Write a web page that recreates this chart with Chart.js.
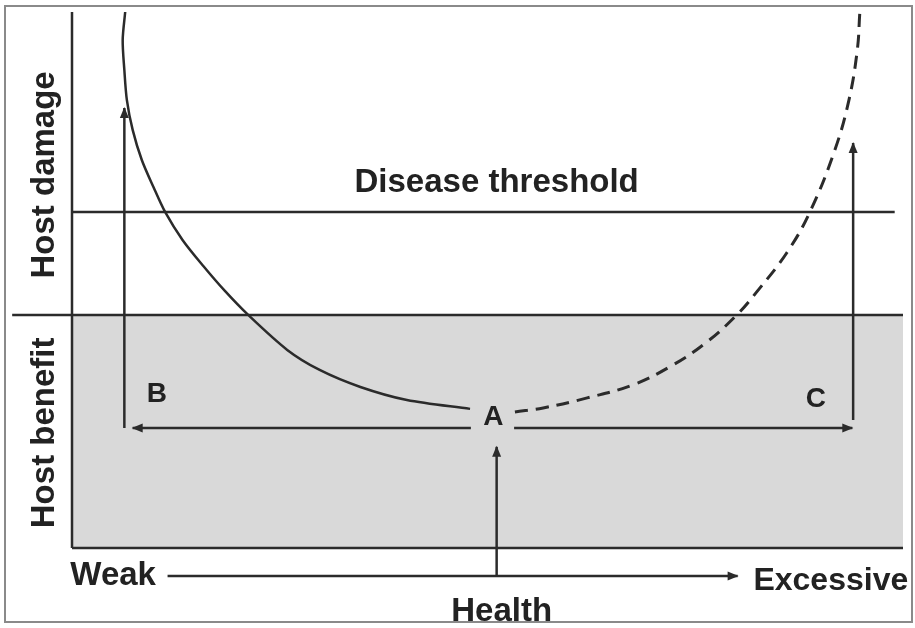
<!DOCTYPE html>
<html>
<head>
<meta charset="utf-8">
<title>Damage-response framework</title>
<script src="https://cdn.jsdelivr.net/npm/chart.js@4.4.1/dist/chart.umd.min.js"></script>
<style>
  body { margin: 0; background: #ffffff; }
  #wrap { width: 915px; height: 628px; }
</style>
</head>
<body>
<div id="wrap"><canvas id="drfChart" width="915" height="628"></canvas></div>
<script>
// x = health (0 weak .. 100 excessive), y = host damage (>0) / host benefit (<0)
var leftCurveX  = [6.4, 6.1, 6.3, 6.6, 7.3, 8.4, 9.8, 11.2, 13.3, 15.8, 18.4, 21.2, 25.9, 29.8, 34.7, 40.3, 47.9];
var leftCurveY  = [130, 118.0, 105.1, 92.3, 79.4, 66.5, 54.9, 44.2, 32.2, 21.0, 10.3, 0, -15.0, -23.6, -30.9, -36.5, -40.3];
var rightCurveX = [53.3, 56.7, 62.0, 67.5, 72.3, 76.4, 80.0, 82.4, 86.0, 88.8, 91.8, 93.5, 94.5, 94.8];
var rightCurveY = [-41.6, -39.9, -35.6, -30.0, -21.5, -11.6, 0, 9.9, 26.6, 44.2, 70.8, 92.3, 113.7, 129.6];

var thresholdY = 44.2;
var boundaryY = 0;

var labelText = ['Disease threshold', 'Host damage', 'Host benefit', 'Weak', 'Excessive', 'Health', 'A', 'B', 'C'];
var labelX    = [51.1, -3.3, -3.3, -0.2, 82.0, 51.7, 50.7, 10.2, 89.5];
var labelY    = [52.8, 60.1, -50.6, -115.9, -118.0, -131.3, -47.2, -37.3, -39.5];

var ink = '#2b2b2b';
var fontFamily = '"Comic Sans MS", "Liberation Sans", Arial, sans-serif';

function pts(xs, ys) {
  var out = [];
  for (var i = 0; i < xs.length; i++) out.push({x: xs[i], y: ys[i]});
  return out;
}

function seg(x1, y1, x2, y2, arrow) {
  return {
    data: [{x: x1, y: y1}, {x: x2, y: y2}],
    showLine: true, borderColor: ink, borderWidth: 2.5, pointRadius: 0,
    tension: 0, clip: false, arrow: !!arrow, order: 1
  };
}

// arrow heads on the last point of a dataset
var arrowPlugin = {
  id: 'arrowHeads',
  afterDatasetsDraw: function(chart) {
    var ctx = chart.ctx;
    chart.data.datasets.forEach(function(ds, i) {
      if (!ds.arrow) return;
      var p = chart.getDatasetMeta(i).data;
      var a = p[p.length - 2], b = p[p.length - 1];
      var ang = Math.atan2(b.y - a.y, b.x - a.x);
      var len = 10, half = 4.5;
      ctx.save();
      ctx.fillStyle = ink;
      ctx.translate(b.x, b.y);
      ctx.rotate(ang);
      ctx.beginPath();
      ctx.moveTo(1, 0);
      ctx.lineTo(-len, -half);
      ctx.lineTo(-len, half);
      ctx.closePath();
      ctx.fill();
      ctx.restore();
    });
  }
};

var textPlugin = {
  id: 'textLabels',
  afterDraw: function(chart) {
    var ctx = chart.ctx;
    var xs = chart.scales.x, ys = chart.scales.y;
    ctx.save();
    // outer frame
    ctx.strokeStyle = '#8a8a8a';
    ctx.lineWidth = 2;
    ctx.strokeRect(5, 6, 907, 616);
    ctx.fillStyle = '#222222';
    for (var i = 0; i < labelText.length; i++) {
      var px = xs.getPixelForValue(labelX[i]);
      var py = ys.getPixelForValue(labelY[i]);
      var t = labelText[i];
      ctx.save();
      ctx.translate(px, py);
      if (t === 'Host damage' || t === 'Host benefit') {
        ctx.rotate(-Math.PI / 2);
        ctx.font = 'bold 33px ' + fontFamily;
        ctx.textAlign = 'center';
        ctx.textBaseline = 'middle';
      } else if (t.length === 1) {
        ctx.font = 'bold 28px ' + fontFamily;
        ctx.textAlign = 'center';
        ctx.textBaseline = 'alphabetic';
      } else {
        ctx.font = (t === 'Excessive' ? 'bold 32px ' : 'bold 33px ') + fontFamily;
        ctx.textAlign = (t === 'Weak' || t === 'Excessive') ? 'left' : 'center';
        ctx.textBaseline = 'alphabetic';
      }
      ctx.fillText(t, 0, 0);
      ctx.restore();
    }
    ctx.restore();
  }
};

var datasets = [
  // grey "host benefit" band
  {
    data: [{x: 0, y: boundaryY}, {x: 100, y: boundaryY}],
    showLine: true, borderWidth: 0, pointRadius: 0,
    fill: {value: -100}, backgroundColor: '#d9d9d9', order: 10
  },
  {
    data: pts(leftCurveX, leftCurveY),
    showLine: true, borderColor: ink, borderWidth: 2.5, pointRadius: 0,
    tension: 0.3, clip: false, order: 1
  },
  {
    data: pts(rightCurveX, rightCurveY),
    showLine: true, borderColor: ink, borderWidth: 3, borderDash: [13, 8], pointRadius: 0,
    tension: 0.4, clip: false, order: 1
  },
  seg(0, thresholdY, 99.0, thresholdY),
  seg(-7.2, boundaryY, 100, boundaryY),
  seg(0, -100, 0, 130),
  seg(0, -100, 100, -100),
  seg(48.0, -48.5, 7.3, -48.5, true),
  seg(53.2, -48.5, 93.9, -48.5, true),
  seg(6.3, -48.5, 6.3, 88.8, true),
  seg(94.0, -45.1, 94.0, 73.8, true),
  seg(51.1, -112, 51.1, -56.6, true),
  seg(11.5, -112, 80.1, -112, true)
];

var chart = new Chart(document.getElementById('drfChart').getContext('2d'), {
  type: 'scatter',
  data: { datasets: datasets },
  options: {
    responsive: false,
    animation: false,
    devicePixelRatio: 1,
    layout: { padding: { left: 72, right: 12, top: 12, bottom: 80 } },
    scales: {
      x: { type: 'linear', min: 0, max: 100, display: false },
      y: { type: 'linear', min: -100, max: 130, display: false }
    },
    plugins: {
      legend: { display: false },
      tooltip: { enabled: false }
    }
  },
  plugins: [arrowPlugin, textPlugin]
});
</script>
</body>
</html>
